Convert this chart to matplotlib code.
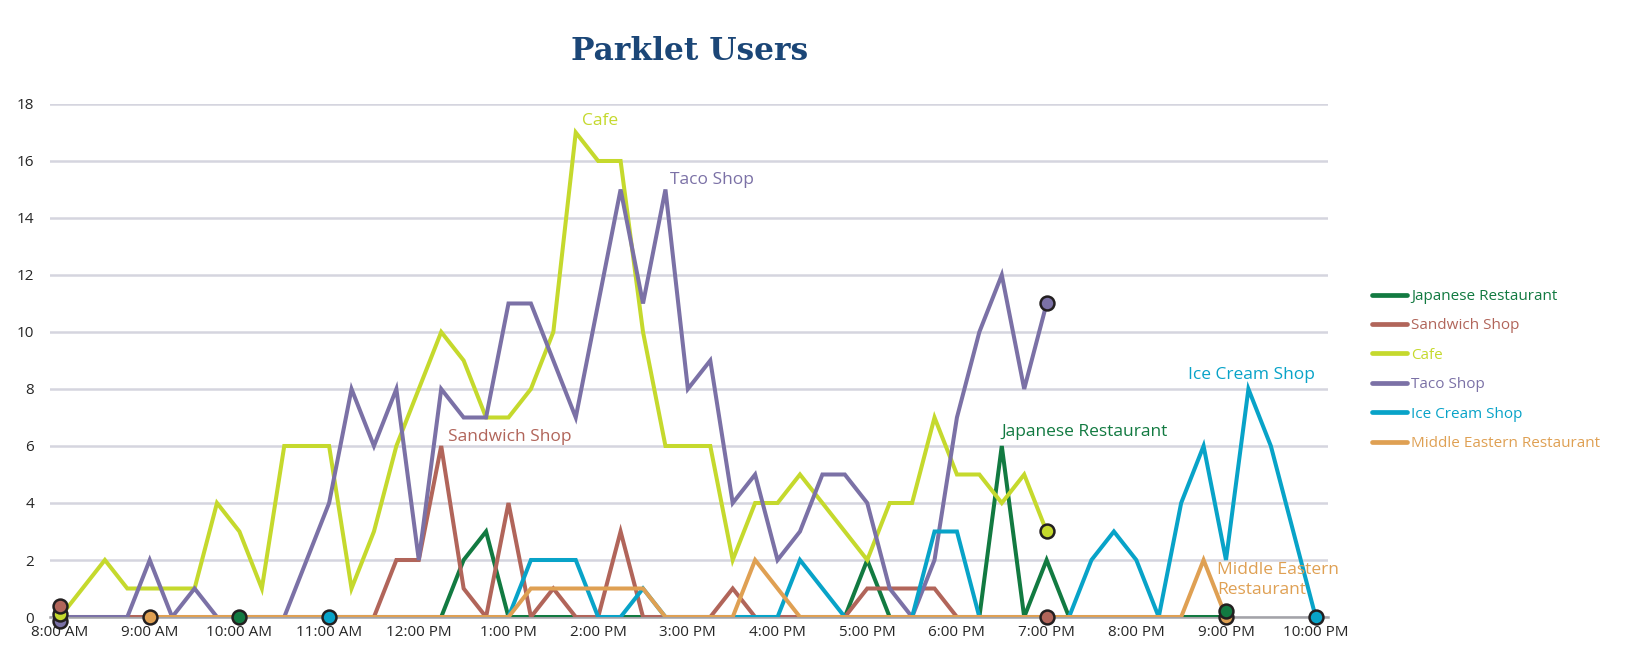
import numpy as np
import matplotlib
matplotlib.use("Agg")
import matplotlib.pyplot as plt
import matplotlib.transforms as mtransforms
from matplotlib.lines import Line2D

plt.rcParams['font.family'] = ['Open Sans', 'DejaVu Sans']

# one slot every 15 minutes, 8:00 AM .. 10:00 PM (57 slots)
hour_labels = ["8:00 AM", "9:00 AM", "10:00 AM", "11:00 AM", "12:00 PM", "1:00 PM", "2:00 PM",
               "3:00 PM", "4:00 PM", "5:00 PM", "6:00 PM", "7:00 PM", "8:00 PM", "9:00 PM",
               "10:00 PM"]
slots_per_hour = 4

# users per slot, None = shop closed
japanese = ([None] * 8 +
            [0, 0, 0, 0, 0, 0, 0, 0, 0, 0, 2, 3, 0, 0, 0, 0, 0, 0, 0, 0,
             0, 0, 0, 0, 0, 0, 0, 0, 2, 0, 0, 0, 0, 0, 6, 0, 2, 0, 0, 0,
             0, 0, 0, 0, 0] +
            [None] * 4)
sandwich = ([0, 0, 0, 0, 0, 0, 0, 0, 0, 0, 0, 0, 0, 0, 0, 2, 2, 6, 1, 0,
             4, 0, 1, 0, 0, 3, 0, 0, 0, 0, 1, 0, 0, 0, 0, 0, 1, 1, 1, 1,
             0, 0, 0, 0, 0] +
            [None] * 12)
cafe = ([0, 1, 2, 1, 1, 1, 1, 4, 3, 1, 6, 6, 6, 1, 3, 6, 8, 10, 9, 7,
         7, 8, 10, 17, 16, 16, 10, 6, 6, 6, 2, 4, 4, 5, 4, 3, 2, 4, 4, 7,
         5, 5, 4, 5, 3] +
        [None] * 12)
taco = ([0, 0, 0, 0, 2, 0, 1, 0, 0, 0, 0, 2, 4, 8, 6, 8, 2, 8, 7, 7,
         11, 11, 9, 7, 11, 15, 11, 15, 8, 9, 4, 5, 2, 3, 5, 5, 4, 1, 0, 2,
         7, 10, 12, 8, 11] +
        [None] * 12)
ice_cream = ([None] * 12 +
             [0, 0, 0, 0, 0, 0, 0, 0, 0, 2, 2, 2, 0, 0, 1, 0, 0, 0, 0, 0,
              0, 2, 1, 0, 0, 0, 0, 3, 3, 0, 0, 0, 0, 0, 2, 3, 2, 0, 4, 6,
              2, 8, 6, 3, 0])
middle_eastern = ([None] * 4 +
                  [0, 0, 0, 0, 0, 0, 0, 0, 0, 0, 0, 0, 0, 0, 0, 0, 0, 1, 1, 1,
                   1, 1, 1, 0, 0, 0, 0, 2, 1, 0, 0, 0, 0, 0, 0, 0, 0, 0, 0, 0,
                   0, 0, 0, 0, 0, 0, 0, 2, 0] +
                  [None] * 4)

names = ["Japanese Restaurant", "Sandwich Shop", "Cafe", "Taco Shop", "Ice Cream Shop",
         "Middle Eastern Restaurant"]
series = [japanese, sandwich, cafe, taco, ice_cream, middle_eastern]
colors = ["#127a41", "#b1655a", "#c5d92d", "#7b71a6", "#08a3c8", "#dfa053"]

# where the series name is written on the chart
label_text = ["Japanese Restaurant", "Sandwich Shop", "Cafe", "Taco Shop", "Ice Cream Shop",
              "Middle Eastern\nRestaurant"]
label_pos = [(42.0, 6.5), (17.3, 6.3), (23.3, 17.4), (27.2, 15.35), (50.3, 8.5), (51.6, 1.3)]

# small nudges (points) so stacked end markers stay visible
start_nudge = [0, 8, 2, -3, 0, 0]
end_nudge = [4, 0, 0, 0, 0, 0]

fig = plt.figure(figsize=(16.5, 6.7), dpi=100)
ax = fig.add_axes([0.030, 0.0791, 0.775, 0.7657])

x = np.arange(len(cafe))
for vals, c in zip(series, colors):
    y = np.array([np.nan if v is None else v for v in vals], dtype=float)
    ax.plot(x, y, color=c, lw=2.9, solid_joinstyle='miter', zorder=3)

# end point markers
marker_order = [3, 2, 1, 5, 0, 4]
for k in marker_order:
    vals = series[k]
    idx = [i for i, v in enumerate(vals) if v is not None]
    for i, nudge in ((idx[0], start_nudge[k]), (idx[-1], end_nudge[k])):
        tr = ax.transData + mtransforms.ScaledTranslation(0, nudge / 72, fig.dpi_scale_trans)
        ax.plot([i], [vals[i]], marker='o', ms=10, mfc=colors[k], mec='#231f20', mew=1.8,
                transform=tr, clip_on=False, zorder=6, ls='none')

for txt, (lx, ly), c in zip(label_text, label_pos, colors):
    ax.text(lx, ly, txt, color=c, fontsize=12.5, ha='left', va='center', linespacing=1.4,
            zorder=7)

ax.set_xlim(-0.47, 56.56)
ax.set_ylim(0, 18)
ax.set_yticks(range(0, 19, 2))
ax.set_xticks(np.arange(len(hour_labels)) * slots_per_hour)
ax.set_xticklabels(hour_labels)
ax.tick_params(axis='both', length=0, labelsize=11, labelcolor='#262626')
ax.tick_params(axis='y', pad=11)
ax.tick_params(axis='x', pad=6)
ax.grid(axis='y', color='#d5d5df', lw=1.8, zorder=0)
ax.set_axisbelow(True)
for s in ['top', 'right', 'left']:
    ax.spines[s].set_visible(False)
ax.spines['bottom'].set_color('#a3a3a8')
ax.spines['bottom'].set_linewidth(1.8)
ax.spines['bottom'].set_zorder(1)

handles = [Line2D([], [], color=c, lw=3.4, solid_capstyle='round') for c in colors]
fig.legend(handles, names, loc='center left', bbox_to_anchor=(1372 / 1650, 1 - 370 / 670),
           frameon=False, borderpad=0, borderaxespad=0, fontsize=11, handlelength=2.3,
           handletextpad=0.25, labelspacing=0.94, labelcolor='linecolor')

fig.text(0.418, 0.923, "Parklet Users", fontsize=22.5, fontweight='bold', family='DejaVu Serif',
         color='#1b4677', ha='center', va='center')

plt.savefig("out.png", dpi=100)
